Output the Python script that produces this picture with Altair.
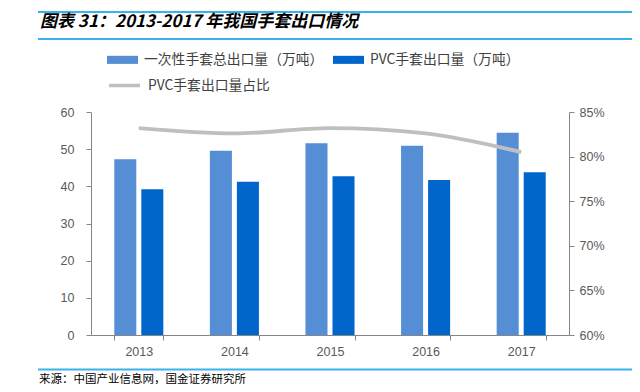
import altair as alt
import pandas as pd

years = ["2013", "2014", "2015", "2016", "2017"]
total_export = [47.3, 49.6, 51.6, 50.9, 54.4]
pvc_export = [39.2, 41.2, 42.7, 41.7, 43.8]
pvc_share = [0.832, 0.826, 0.832, 0.826, 0.805]

series_names = ["一次性手套总出口量（万吨）", "PVC手套出口量（万吨）"]
share_name = "PVC手套出口量占比"
bar_colors = ["#558ED5", "#0066CC"]
line_color = "#BFBFBF"

title_text = "图表 31：2013-2017 年我国手套出口情况"
source_text = "来源：中国产业信息网，国金证券研究所"

CJK = "Noto Sans CJK SC"
LAT = "Liberation Sans"
AX = "#868686"
LBL = "#595959"

bars_df = pd.DataFrame({
    "year": years * 2,
    "series": [series_names[0]] * len(years) + [series_names[1]] * len(years),
    "value": total_export + pvc_export,
})
line_df = pd.DataFrame({"year": years, "share": pvc_share, "name": [share_name] * len(years)})
one = pd.DataFrame({"k": [0]})

x_enc = alt.X("year:N", title=None,
              scale=alt.Scale(paddingInner=0.487, paddingOuter=0.2435),
              axis=alt.Axis(tickBand="extent", tickSize=5, tickColor=AX, domainColor=AX,
                            labelAngle=0, labelFont=LAT, labelFontSize=12.5, labelColor=LBL,
                            labelPadding=5, grid=False))

bars = alt.Chart(bars_df).mark_bar().encode(
    x=x_enc,
    xOffset=alt.XOffset("series:N", sort=series_names, scale=alt.Scale(paddingInner=0.185, paddingOuter=0)),
    y=alt.Y("value:Q", title=None,
            scale=alt.Scale(domain=[0, 60], nice=False),
            axis=alt.Axis(values=[0, 10, 20, 30, 40, 50, 60], grid=False, tickSize=5,
                          tickColor=AX, domainColor=AX, labelFont=LAT, labelFontSize=12.5,
                          labelColor=LBL, labelPadding=12, orient="left")),
    color=alt.Color("series:N", sort=series_names,
                    scale=alt.Scale(domain=series_names, range=bar_colors),
                    legend=alt.Legend(title=None, orient="none", legendX=16, legendY=-68,
                                      direction="horizontal",
                                      symbolType="M-1,-0.26H1V0.26H-1Z", symbolSize=961,
                                      symbolStrokeWidth=0, labelFont=CJK, labelFontSize=13.8,
                                      labelColor="#404040", labelOffset=6, columnPadding=9,
                                      labelLimit=400)),
)

line = alt.Chart(line_df).mark_line(strokeWidth=3.8, interpolate="monotone").encode(
    x=alt.X("year:N"),
    y=alt.Y("share:Q", title=None,
            scale=alt.Scale(domain=[0.6, 0.85], nice=False),
            axis=alt.Axis(values=[0.6, 0.65, 0.7, 0.75, 0.8, 0.85], format=".0%", grid=False,
                          tickSize=5, tickColor=AX, domainColor=AX, labelFont=LAT,
                          labelFontSize=12.5, labelColor=LBL, labelPadding=5, orient="right")),
    stroke=alt.Stroke("name:N", scale=alt.Scale(domain=[share_name], range=[line_color]),
                      legend=alt.Legend(title=None, orient="none", legendX=16, legendY=-44,
                                        symbolType="stroke", symbolSize=961, symbolStrokeWidth=3.5,
                                        labelFont=CJK, labelFontSize=13.8, labelColor="#404040",
                                        labelOffset=6, labelLimit=400)),
)

rule_color = "#3AB2EE"
top_rule = alt.Chart(one).mark_rule(color=rule_color, strokeWidth=2).encode(
    x=alt.value(-53), x2=alt.value(545), y=alt.value(-100))
mid_rule = alt.Chart(one).mark_rule(color=rule_color, strokeWidth=2).encode(
    x=alt.value(-53), x2=alt.value(545), y=alt.value(-73))
foot_rule = alt.Chart(one).mark_rule(color=rule_color, strokeWidth=2).encode(
    x=alt.value(-53), x2=alt.value(545), y=alt.value(257.5))

title = alt.Chart(one).mark_text(align="left", baseline="middle", font=CJK, fontSize=17,
                                 fontWeight="bold", fontStyle="italic", color="#000000").encode(
    x=alt.value(-51), y=alt.value(-90.5), text=alt.value(title_text))
source = alt.Chart(one).mark_text(align="left", baseline="middle", font=CJK, fontSize=11.5,
                                  color="#000000").encode(
    x=alt.value(-52), y=alt.value(267.5), text=alt.value(source_text))

chart = alt.layer(bars, line, top_rule, mid_rule, foot_rule, title, source).resolve_scale(
    y="independent", color="independent"
).properties(
    width=478, height=223,
    autosize=alt.AutoSizeParams(type="none"),
    padding={"left": 83, "top": 104, "right": 63, "bottom": 49},
).configure_view(stroke=None)

chart.save("out.html", embed_options={"renderer": "svg", "actions": False})
